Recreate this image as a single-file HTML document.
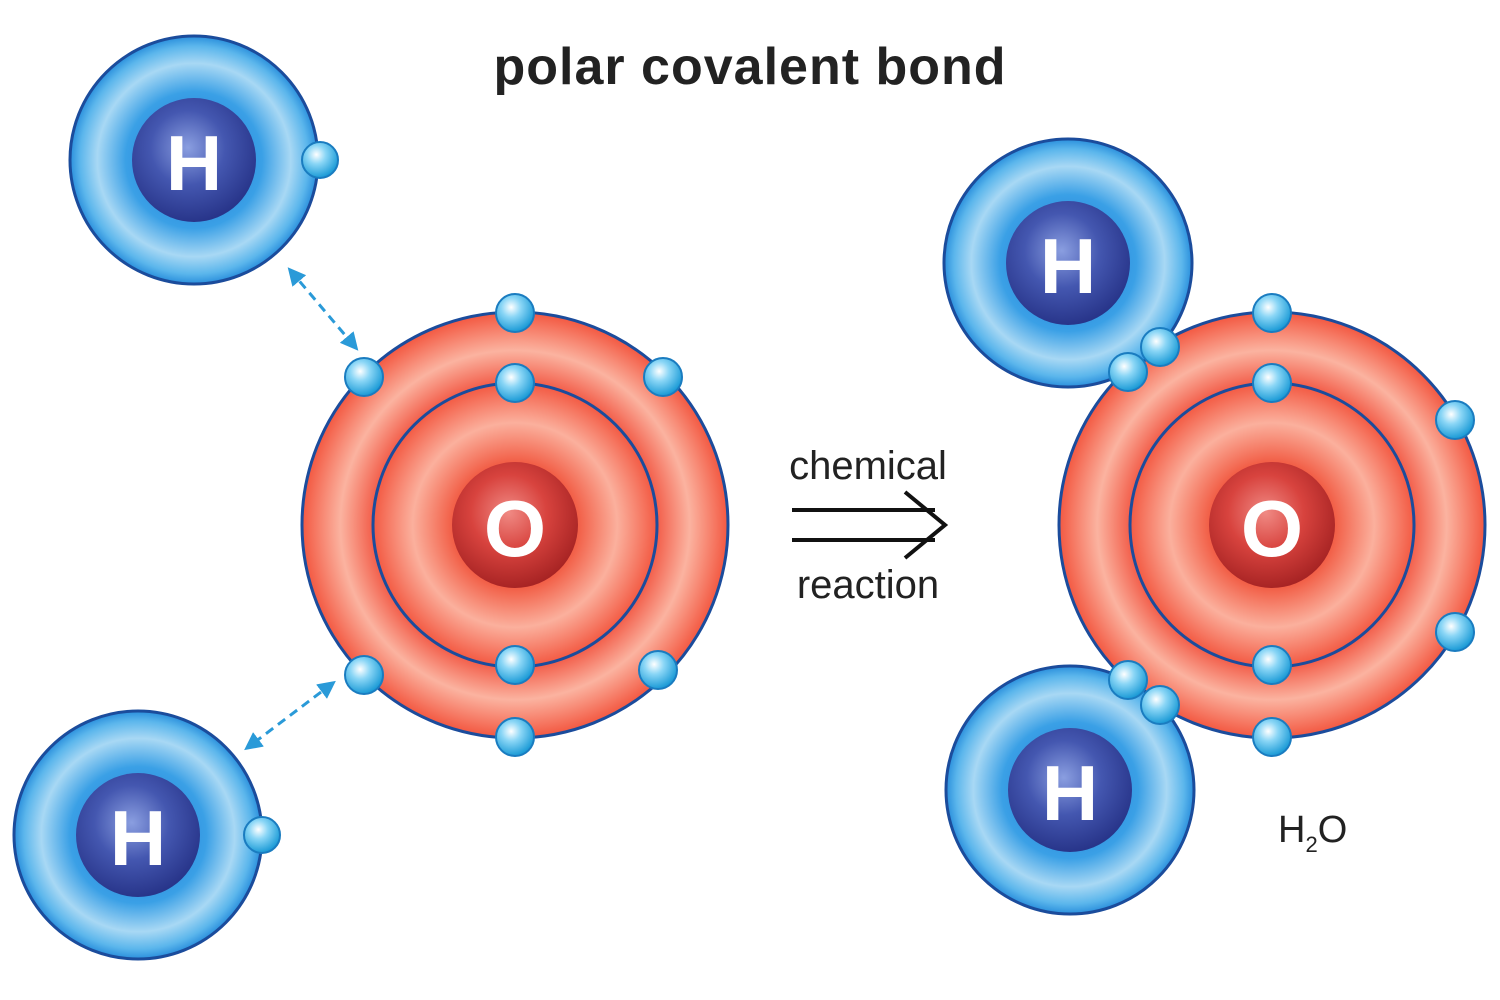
<!DOCTYPE html>
<html><head><meta charset="utf-8"><style>
html,body{margin:0;padding:0;background:#fff;width:1500px;height:1000px;overflow:hidden}
svg{display:block}
text{font-family:"Liberation Sans",sans-serif}
</style></head><body>
<svg width="1500" height="1000" viewBox="0 0 1500 1000">
<defs>
<radialGradient id="hShell" cx="50%" cy="50%" r="50%">
<stop offset="0%" stop-color="#1d6fd0"/>
<stop offset="55%" stop-color="#3aa0e6"/>
<stop offset="78%" stop-color="#a8d8f4"/>
<stop offset="92%" stop-color="#5bb6ec"/>
<stop offset="100%" stop-color="#2a8fdc"/>
</radialGradient>
<radialGradient id="hNuc" cx="45%" cy="40%" r="60%">
<stop offset="0%" stop-color="#8a9ee0"/>
<stop offset="50%" stop-color="#4457b0"/>
<stop offset="100%" stop-color="#28358a"/>
</radialGradient>
<radialGradient id="oOuter" cx="50%" cy="50%" r="50%">
<stop offset="0%" stop-color="#f04a3a"/>
<stop offset="66%" stop-color="#f25a46"/>
<stop offset="82%" stop-color="#fbb3a0"/>
<stop offset="100%" stop-color="#f35841"/>
</radialGradient>
<radialGradient id="oInner" cx="50%" cy="50%" r="50%">
<stop offset="0%" stop-color="#f05040"/>
<stop offset="45%" stop-color="#f26048"/>
<stop offset="72%" stop-color="#fbb09d"/>
<stop offset="100%" stop-color="#f35a43"/>
</radialGradient>
<radialGradient id="oNuc" cx="45%" cy="40%" r="60%">
<stop offset="0%" stop-color="#f08a84"/>
<stop offset="50%" stop-color="#d8433e"/>
<stop offset="100%" stop-color="#a82424"/>
</radialGradient>
<radialGradient id="elec" cx="40%" cy="35%" r="65%">
<stop offset="0%" stop-color="#ffffff"/>
<stop offset="40%" stop-color="#8ad6f6"/>
<stop offset="100%" stop-color="#1a9ad6"/>
</radialGradient>
<marker id="ah" viewBox="0 0 10 10" refX="8" refY="5" markerWidth="6" markerHeight="6" orient="auto-start-reverse">
<path d="M0,0 L10,5 L0,10 z" fill="#2a9ad8"/>
</marker>
</defs>

<text x="750" y="84" text-anchor="middle" font-size="52" font-weight="bold" letter-spacing="1" fill="#222">polar covalent bond</text>

<g>
<circle cx="194" cy="160" r="124" fill="url(#hShell)" stroke="#1b4c9c" stroke-width="3"/>
<circle cx="194" cy="160" r="62" fill="url(#hNuc)"/>
<text x="194" y="190" text-anchor="middle" font-size="78" font-weight="bold" fill="#fff">H</text>
<circle cx="320" cy="160" r="18" fill="url(#elec)" stroke="#1a7cc0" stroke-width="2"/>
</g>
<g>
<circle cx="138" cy="835" r="124" fill="url(#hShell)" stroke="#1b4c9c" stroke-width="3"/>
<circle cx="138" cy="835" r="62" fill="url(#hNuc)"/>
<text x="138" y="865" text-anchor="middle" font-size="78" font-weight="bold" fill="#fff">H</text>
<circle cx="262" cy="835" r="18" fill="url(#elec)" stroke="#1a7cc0" stroke-width="2"/>
</g>

<line x1="290" y1="270" x2="356" y2="348" stroke="#2a9ad8" stroke-width="3" stroke-dasharray="9,6" marker-start="url(#ah)" marker-end="url(#ah)"/>
<line x1="333" y1="683" x2="247" y2="748" stroke="#2a9ad8" stroke-width="3" stroke-dasharray="9,6" marker-start="url(#ah)" marker-end="url(#ah)"/>

<g>
<circle cx="515" cy="525" r="213" fill="url(#oOuter)" stroke="#1b4c9c" stroke-width="3"/>
<circle cx="515" cy="525" r="142" fill="url(#oInner)" stroke="#1b4c9c" stroke-width="3"/>
<circle cx="515" cy="525" r="63" fill="url(#oNuc)"/>
<text x="515" y="556" text-anchor="middle" font-size="80" font-weight="bold" fill="#fff">O</text>
<g fill="url(#elec)" stroke="#1a7cc0" stroke-width="2">
<circle cx="515" cy="313" r="19"/><circle cx="515" cy="383" r="19"/>
<circle cx="364" cy="377" r="19"/><circle cx="663" cy="377" r="19"/>
<circle cx="364" cy="675" r="19"/><circle cx="658" cy="670" r="19"/>
<circle cx="515" cy="665" r="19"/><circle cx="515" cy="737" r="19"/>
</g>
</g>

<text x="868" y="479" text-anchor="middle" font-size="40" fill="#222">chemical</text>
<g stroke="#111" stroke-width="4" fill="none">
<line x1="792" y1="510" x2="935" y2="510"/>
<line x1="792" y1="540" x2="935" y2="540"/>
<path d="M905,492 L945,525 L905,558"/>
</g>
<text x="868" y="598" text-anchor="middle" font-size="40" fill="#222">reaction</text>

<g>
<circle cx="1272" cy="525" r="213" fill="url(#oOuter)" stroke="#1b4c9c" stroke-width="3"/>
<circle cx="1272" cy="525" r="142" fill="url(#oInner)" stroke="#1b4c9c" stroke-width="3"/>
<circle cx="1272" cy="525" r="63" fill="url(#oNuc)"/>
<text x="1272" y="556" text-anchor="middle" font-size="80" font-weight="bold" fill="#fff">O</text>
</g>
<g>
<circle cx="1068" cy="263" r="124" fill="url(#hShell)" stroke="#1b4c9c" stroke-width="3"/>
<circle cx="1068" cy="263" r="62" fill="url(#hNuc)"/>
<text x="1068" y="293" text-anchor="middle" font-size="78" font-weight="bold" fill="#fff">H</text>
</g>
<g>
<circle cx="1070" cy="790" r="124" fill="url(#hShell)" stroke="#1b4c9c" stroke-width="3"/>
<circle cx="1070" cy="790" r="62" fill="url(#hNuc)"/>
<text x="1070" y="820" text-anchor="middle" font-size="78" font-weight="bold" fill="#fff">H</text>
</g>
<g fill="url(#elec)" stroke="#1a7cc0" stroke-width="2">
<circle cx="1272" cy="313" r="19"/><circle cx="1272" cy="383" r="19"/>
<circle cx="1455" cy="420" r="19"/><circle cx="1455" cy="632" r="19"/>
<circle cx="1272" cy="665" r="19"/><circle cx="1272" cy="737" r="19"/>
<circle cx="1160" cy="347" r="19"/><circle cx="1128" cy="372" r="19"/>
<circle cx="1128" cy="680" r="19"/><circle cx="1160" cy="705" r="19"/>
</g>

<text x="1278" y="842" font-size="38" fill="#222">H<tspan font-size="22" dy="10">2</tspan><tspan dy="-10">O</tspan></text>
</svg>
</body></html>
